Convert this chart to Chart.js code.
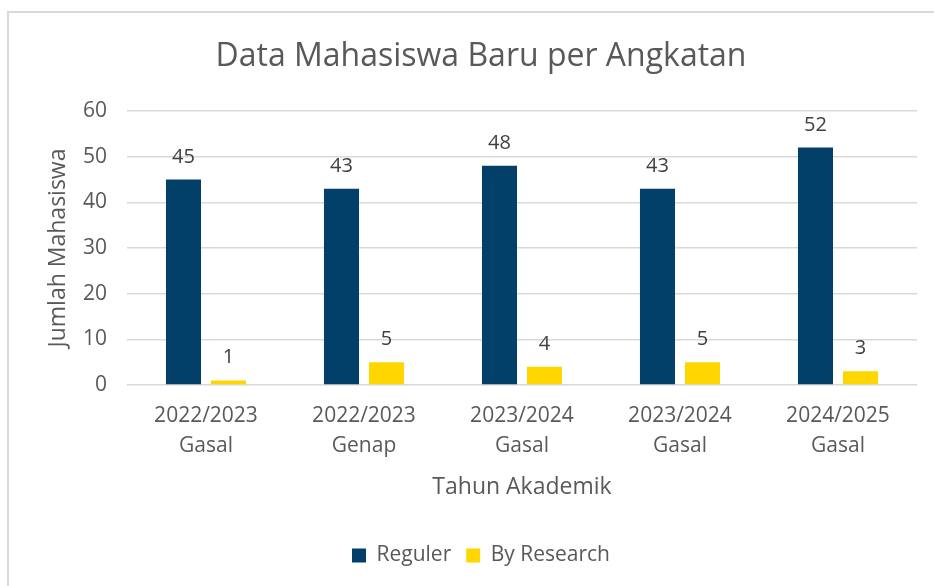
<!DOCTYPE html>
<html>
<head>
<meta charset="utf-8">
<script src="https://cdn.jsdelivr.net/npm/chart.js@4/dist/chart.umd.min.js"></script>
<style>
  html, body { margin: 0; padding: 0; background: #fff; overflow: hidden; }
  #frame { position: absolute; left: 7px; top: 11px; width: 1000px; height: 1000px; border: 2px solid #d9d9d9; box-sizing: border-box; }
  #wrap { position: absolute; left: 0; top: 0; width: 934px; height: 586px; }
</style>
</head>
<body>
<div id="frame"></div>
<div id="wrap"><canvas id="c" width="934" height="586"></canvas></div>
<script>
const years = ['2022/2023', '2022/2023', '2023/2024', '2023/2024', '2024/2025'];
const semesters = ['Gasal', 'Genap', 'Gasal', 'Gasal', 'Gasal'];
const reguler = [45, 43, 48, 43, 52];
const byResearch = [1, 5, 4, 5, 3];
const yTicks = [0, 10, 20, 30, 40, 50, 60];

const FONT = "'Open Sans', 'DejaVu Sans', sans-serif";
const TXT = '#595959';
const BOTTOM_PAD = 10;
const PLOT_BOTTOM = 385;

const labels = years.map((y, i) => [y, semesters[i]]);

const valueLabels = {
  id: 'valueLabels',
  afterDatasetsDraw(chart) {
    const ctx = chart.ctx;
    ctx.save();
    ctx.font = '20px ' + FONT;
    ctx.fillStyle = '#404040';
    ctx.textAlign = 'center';
    ctx.textBaseline = 'alphabetic';
    chart.data.datasets.forEach((ds, di) => {
      const meta = chart.getDatasetMeta(di);
      meta.data.forEach((bar, i) => {
        ctx.fillText(String(ds.data[i]), bar.x, bar.y - 17);
      });
    });
    ctx.restore();
  }
};

new Chart(document.getElementById('c'), {
  type: 'bar',
  data: {
    labels: labels,
    datasets: [
      { label: 'Reguler', data: reguler, backgroundColor: '#023F69', borderWidth: 0,
        categoryPercentage: 0.57, barPercentage: 0.778 },
      { label: 'By Research', data: byResearch, backgroundColor: '#FFD600', borderWidth: 0,
        categoryPercentage: 0.57, barPercentage: 0.778 }
    ]
  },
  options: {
    responsive: false,
    animation: false,
    events: [],
    layout: { padding: { left: 45, right: 17, top: 0, bottom: BOTTOM_PAD } },
    plugins: {
      title: {
        display: true,
        text: 'Data Mahasiswa Baru per Angkatan',
        color: TXT,
        font: { family: FONT, size: 32, weight: 'normal', lineHeight: 1.2 },
        padding: { top: 37.8, bottom: 34.8 }
      },
      legend: {
        position: 'bottom',
        labels: {
          color: TXT,
          font: { family: FONT, size: 21, lineHeight: 1.2 },
          boxWidth: 14, boxHeight: 14, padding: 15
        }
      },
      tooltip: { enabled: false }
    },
    scales: {
      x: {
        grid: { display: false },
        border: { display: false },
        ticks: { color: TXT, font: { family: FONT, size: 21, lineHeight: 1.43 }, padding: 8, maxRotation: 0, autoSkip: false },
        title: { display: true, text: 'Tahun Akademik', color: TXT,
          font: { family: FONT, size: 23, lineHeight: 1.2 }, padding: { top: 0, bottom: 28.6 } },
        afterFit(scale) {
          const leg = scale.chart.legend;
          const legH = leg && leg.height ? leg.height : 50;
          scale.height = scale.chart.height - BOTTOM_PAD - legH - PLOT_BOTTOM;
        }
      },
      y: {
        min: 0, max: 60,
        afterBuildTicks(scale) { scale.ticks = yTicks.map(v => ({ value: v })); },
        grid: { color: '#d9d9d9', lineWidth: 1.5, drawTicks: false },
        border: { display: false },
        ticks: { color: TXT, font: { family: FONT, size: 21 }, padding: 20 },
        title: { display: true, text: 'Jumlah Mahasiswa', color: TXT,
          font: { family: FONT, size: 23, lineHeight: 1.2 }, padding: { top: 0, bottom: 0 } },
        afterFit(scale) { scale.width = 82; }
      }
    }
  },
  plugins: [valueLabels]
});
</script>
</body>
</html>
